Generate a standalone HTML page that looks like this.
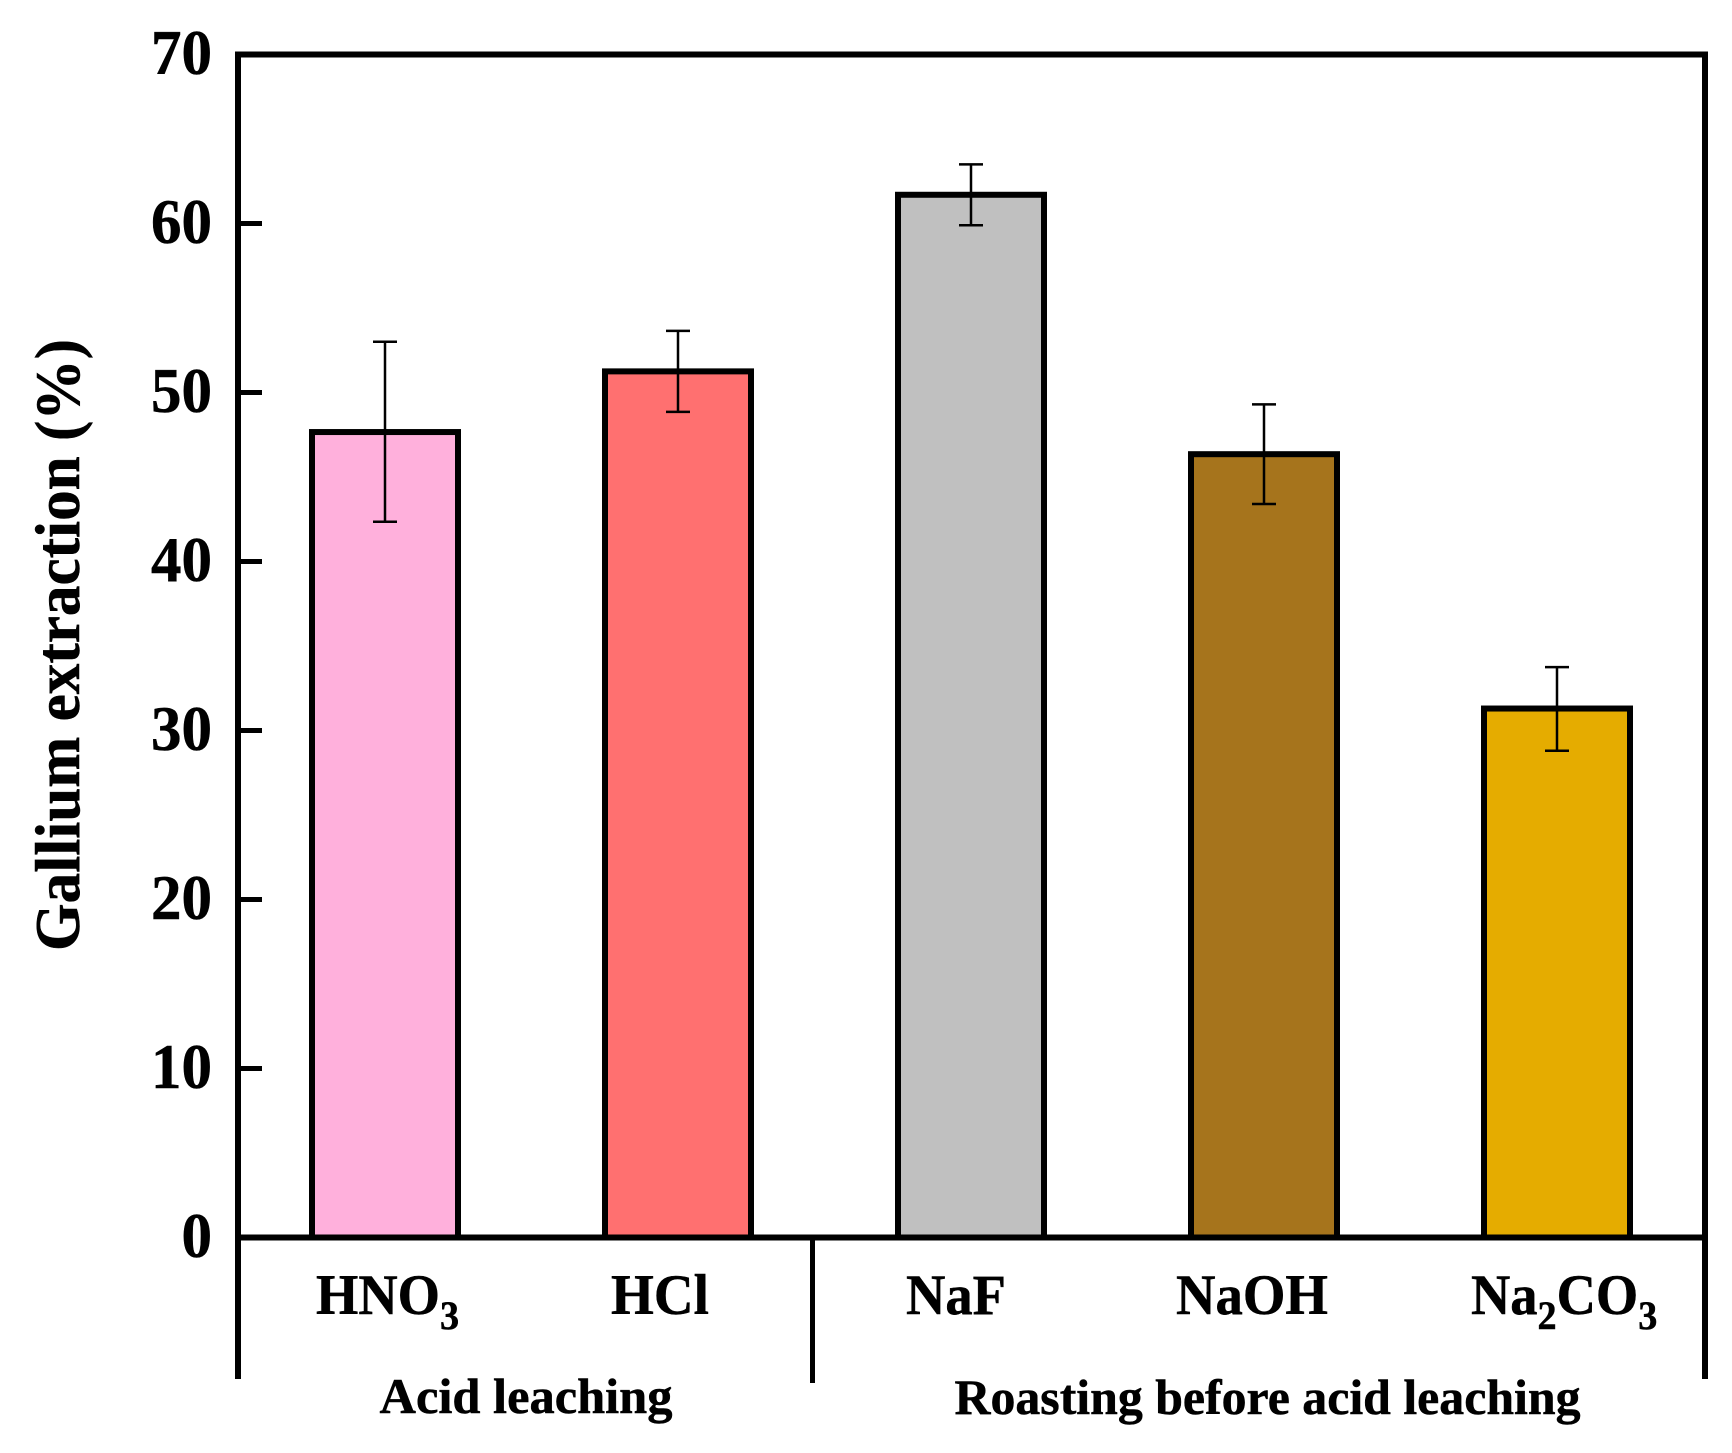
<!DOCTYPE html>
<html lang="en">
<head>
<meta charset="utf-8">
<title>Gallium extraction chart</title>
<style>
html,body{margin:0;padding:0;background:#fff;width:1732px;height:1453px;overflow:hidden}
svg{display:block;font-family:"Liberation Serif",serif;font-weight:bold;fill:#000}
text{stroke:#000;stroke-width:.5px}
</style>
</head>
<body>
<svg id="chart" xmlns="http://www.w3.org/2000/svg" width="1732" height="1453" viewBox="0 0 1732 1453">
  <g id="bars"></g>
  <g id="frame" stroke="#000" fill="none">
    <line x1="235" x2="1708" y1="54.5" y2="54.5" stroke-width="6"/>
    <line x1="238" x2="238" y1="51.5" y2="1379" stroke-width="6"/>
    <line x1="1705" x2="1705" y1="51.5" y2="1379" stroke-width="6"/>
    <line x1="235" x2="1708" y1="1237.5" y2="1237.5" stroke-width="6"/>
    <line x1="812.5" x2="812.5" y1="1237" y2="1383" stroke-width="5"/>
  </g>
  <g id="ticks"></g>
  <g id="errors"></g>
  <text transform="translate(79,645) rotate(-90)" text-anchor="middle" font-size="64" textLength="612" lengthAdjust="spacingAndGlyphs">Gallium extraction (%)</text>
  <g font-size="57">
    <text transform="translate(316,1314) scale(.955,1)">HNO<tspan font-size="40" dy="15">3</tspan></text>
    <text x="611" y="1314" textLength="98" lengthAdjust="spacingAndGlyphs">HCl</text>
    <text x="906" y="1314" textLength="100" lengthAdjust="spacingAndGlyphs">NaF</text>
    <text x="1176" y="1314" textLength="152" lengthAdjust="spacingAndGlyphs">NaOH</text>
    <text transform="translate(1471,1314) scale(.955,1)">Na<tspan font-size="40" dy="15">2</tspan><tspan dy="-15">CO</tspan><tspan font-size="40" dy="15">3</tspan></text>
  </g>
  <text x="379.5" y="1413" font-size="50" textLength="293" lengthAdjust="spacingAndGlyphs">Acid leaching</text>
  <text x="954.5" y="1414" font-size="50" textLength="626" lengthAdjust="spacingAndGlyphs">Roasting before acid leaching</text>
</svg>
<script>
const categories = ['HNO3', 'HCl', 'NaF', 'NaOH', 'Na2CO3'];
const barValues = [47.66, 51.25, 61.7, 46.35, 31.3];
const errorHigh = [53.0, 53.65, 63.5, 49.3, 33.75];
const errorLow = [42.35, 48.85, 59.9, 43.4, 28.8];
const barColors = ['#FFB0DC', '#FF7070', '#C0C0C0', '#A6741C', '#E5AC00'];
const tickValues = [0, 10, 20, 30, 40, 50, 60, 70];

const NS = 'http://www.w3.org/2000/svg';
const plot = { yZero: 1237.5, yTop: 54.5, yMax: 70, xFirst: 385, step: 293, barWidth: 146 };
function yScale(v) { return plot.yZero - (v / plot.yMax) * (plot.yZero - plot.yTop); }
function xScale(i) { return plot.xFirst + i * plot.step; }
function make(tag, attrs, parent) {
  const el = document.createElementNS(NS, tag);
  for (const k in attrs) el.setAttribute(k, attrs[k]);
  parent.appendChild(el);
  return el;
}

const barsG = document.getElementById('bars');
const errorsG = document.getElementById('errors');
categories.forEach(function (cat, i) {
  const cx = xScale(i);
  const top = yScale(barValues[i]);
  const bar = make('rect', { x: cx - plot.barWidth / 2, y: top, width: plot.barWidth, height: plot.yZero - top, fill: barColors[i], stroke: '#000', 'stroke-width': 6 }, barsG);
  
  
  const hi = yScale(errorHigh[i]);
  const lo = yScale(errorLow[i]);
  const err = make('path', { d: 'M' + (cx - 12) + ' ' + hi + 'H' + (cx + 12) + 'M' + cx + ' ' + hi + 'V' + lo + 'M' + (cx - 12) + ' ' + lo + 'H' + (cx + 12), stroke: '#000', 'stroke-width': 2.5, fill: 'none' }, errorsG);
  
  
});

const ticksG = document.getElementById('ticks');
tickValues.forEach(function (v) {
  const y = yScale(v);
  const tick = make('line', { x1: 238, x2: 262, y1: y, y2: y, stroke: '#000', 'stroke-width': 5 }, ticksG);
  
  
  const label = make('text', { x: 212, y: y + 19.5, 'text-anchor': 'end', 'font-size': 64, textLength: String(v).length * 30.5, lengthAdjust: 'spacingAndGlyphs' }, ticksG);
  label.textContent = String(v);
  
  
});
</script>
</body>
</html>
